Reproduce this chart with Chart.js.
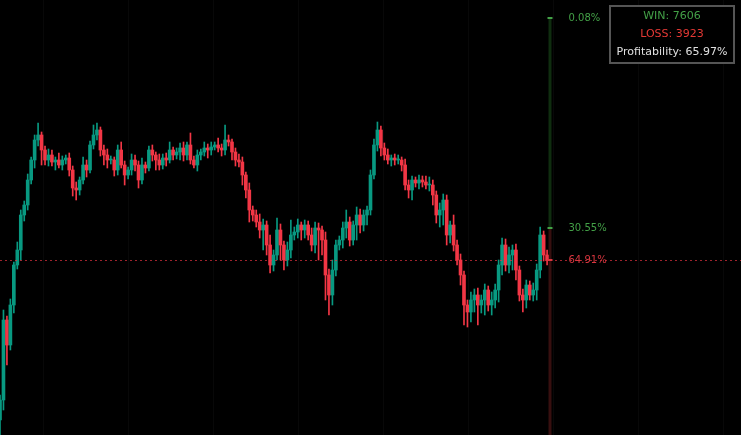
<!DOCTYPE html>
<html><head><meta charset="utf-8">
<script src="https://cdn.jsdelivr.net/npm/chart.js@4"></script>
<style>html,body{margin:0;padding:0;background:#000;}#w{width:741px;height:435px;position:relative}</style>
</head><body><div id="w"><canvas id="c"></canvas></div>
<script>
// closes expressed as price levels (higher = up)
const closes = [35,115,90,130,170,185,220,230,255,275,295,300,285,275,280,273,275,270,275,277,265,247,245,255,270,265,290,300,305,285,280,275,275,265,285,270,260,265,275,270,255,270,267,285,280,275,270,277,275,285,280,283,287,280,290,275,270,280,283,287,285,288,290,287,285,295,293,283,275,273,260,245,225,220,213,205,210,190,170,180,205,190,175,185,200,203,210,205,210,200,190,207,205,195,160,140,165,190,195,207,213,195,210,220,210,220,225,260,290,305,287,280,275,277,275,275,270,250,245,255,252,255,253,250,250,240,220,225,235,200,210,190,175,160,130,123,135,140,130,135,145,130,135,145,170,190,170,180,185,165,140,135,150,140,145,165,200,180,175];
const firstOpen = 15;
const wickUp = [5,10,4,6,3,8,5,4,6,3,5,12,3,4,6,5,3,7,4,3,5,4,6,3,8,5,4,10,7,3,5,6,4,3,5,8,4,3,6,5,4,7,3,4,5,3,6,4,5,8,3,4,5,6,3,12,4,5,3,6,4,5,3,7,4,15,5,3,4,6,5,3,7,4,5,8,6,4,10,5,12,6,4,8,15,5,6,3,5,4,7,6,5,4,8,6,10,5,4,6,12,5,4,8,6,5,4,5,6,8,4,5,6,3,4,5,3,6,5,4,3,5,4,6,8,5,4,7,6,5,4,10,5,6,4,5,8,6,7,5,6,4,8,6,5,7,6,8,5,6,4,6,5,4,7,6,8,4,5];
const wickDown = [15,10,20,5,8,4,10,6,5,4,8,6,15,5,6,4,8,3,5,4,6,8,10,5,4,7,3,4,5,6,10,8,4,6,5,3,10,4,5,6,8,4,5,3,6,10,5,4,6,3,5,4,8,6,5,4,3,6,5,4,8,5,3,4,6,5,4,8,6,5,10,8,12,6,5,8,20,10,8,6,5,15,10,6,8,5,6,10,8,5,6,8,30,15,25,20,10,6,5,8,10,6,5,15,8,6,10,5,4,6,8,5,4,6,5,4,6,5,8,10,4,6,5,4,6,10,8,12,15,10,8,6,5,10,20,15,10,12,20,8,15,6,10,8,12,10,6,8,15,10,6,12,8,5,6,10,8,6,5];
const totalSlots = 215;
const levels = [{v:417, t:'0.08%', c:'#43a047'},{v:207, t:'30.55%', c:'#43a047'},{v:175, t:'64.91%', c:'#d9363f'}];
const stats = ['WIN: 7606','LOSS: 3923','Profitability: 65.97%'];

const labels = Array.from({length: totalSlots}, (_, i) => String(i));
const bodies = [], wicks = [], cols = [];
closes.forEach((c, i) => {
  const o = i === 0 ? firstOpen : closes[i-1];
  bodies.push([o, c === o ? c + 1 : c]);
  wicks.push([Math.min(o,c) - wickDown[i], Math.max(o,c) + wickUp[i]]);
  cols.push(c >= o ? '#089981' : '#f23645');
});
const lastIdx = closes.length;

const overlay = {
  id: 'overlay',
  beforeDraw(ch) {
    const g = ch.ctx; g.save(); g.fillStyle = '#000'; g.fillRect(0,0,ch.width,ch.height);
    g.strokeStyle = '#080808'; g.lineWidth = 1;
    [43,128,213,298,383,468,553,638,723].forEach(x=>{g.beginPath();g.moveTo(x+.5,0);g.lineTo(x+.5,435);g.stroke();});
    g.restore();
  },
  afterDatasetsDraw(ch) {
    const g = ch.ctx, x = ch.scales.x, y = ch.scales.y;
    const lx = Math.round(x.getPixelForValue(lastIdx - 0.5)) + 0.5;
    g.save();
    const yTop = y.getPixelForValue(levels[0].v), yMid = y.getPixelForValue(levels[1].v), yLow = y.getPixelForValue(levels[2].v);
    g.fillStyle = 'rgba(30,90,30,0.5)'; g.fillRect(lx-1, yTop, 3, yMid - yTop);
    g.fillStyle = 'rgba(110,30,30,0.5)'; g.fillRect(lx-1, yMid, 3, 435 - yMid);
    g.strokeStyle = 'rgba(242,54,69,0.65)'; g.setLineDash([2,3]); g.lineWidth = 1;
    g.beginPath(); g.moveTo(0, Math.round(yLow)+0.5); g.lineTo(741, Math.round(yLow)+0.5); g.stroke();
    g.setLineDash([]);
    g.font = '10px "DejaVu Sans"'; g.textBaseline = 'middle';
    levels.forEach(l => {
      const py = y.getPixelForValue(l.v);
      g.fillStyle = l.c; g.fillRect(lx-2, py-1, 5, 2);
      g.fillText(l.t, lx + 19, py);
    });
    g.fillStyle = '#000'; g.fillRect(609,5,126,59);
    g.strokeStyle = '#555'; g.lineWidth = 2; g.strokeRect(610,6,124,57);
    g.font = '11px "DejaVu Sans"'; g.textAlign = 'center';
    const sc = ['#43a047','#e53935','#e0e0e0'];
    stats.forEach((s,i) => { g.fillStyle = sc[i]; g.fillText(s, 672, 16 + i*18); });
    g.restore();
  }
};

new Chart(document.getElementById('c'), {
  type: 'bar',
  data: { labels, datasets: [
    { data: wicks, backgroundColor: cols, barThickness: 1, grouped: false, order: 2 },
    { data: bodies, backgroundColor: cols, barThickness: 3, grouped: false, order: 1 }
  ]},
  options: {
    responsive: true, maintainAspectRatio: false, animation: false,
    layout: { padding: 0 },
    plugins: { legend: { display: false }, tooltip: { enabled: false } },
    scales: {
      x: { display: false, offset: false, min: 0, max: totalSlots - 1 },
      y: { display: false, min: 0, max: 435 }
    }
  },
  plugins: [overlay]
});
</script></body></html>
